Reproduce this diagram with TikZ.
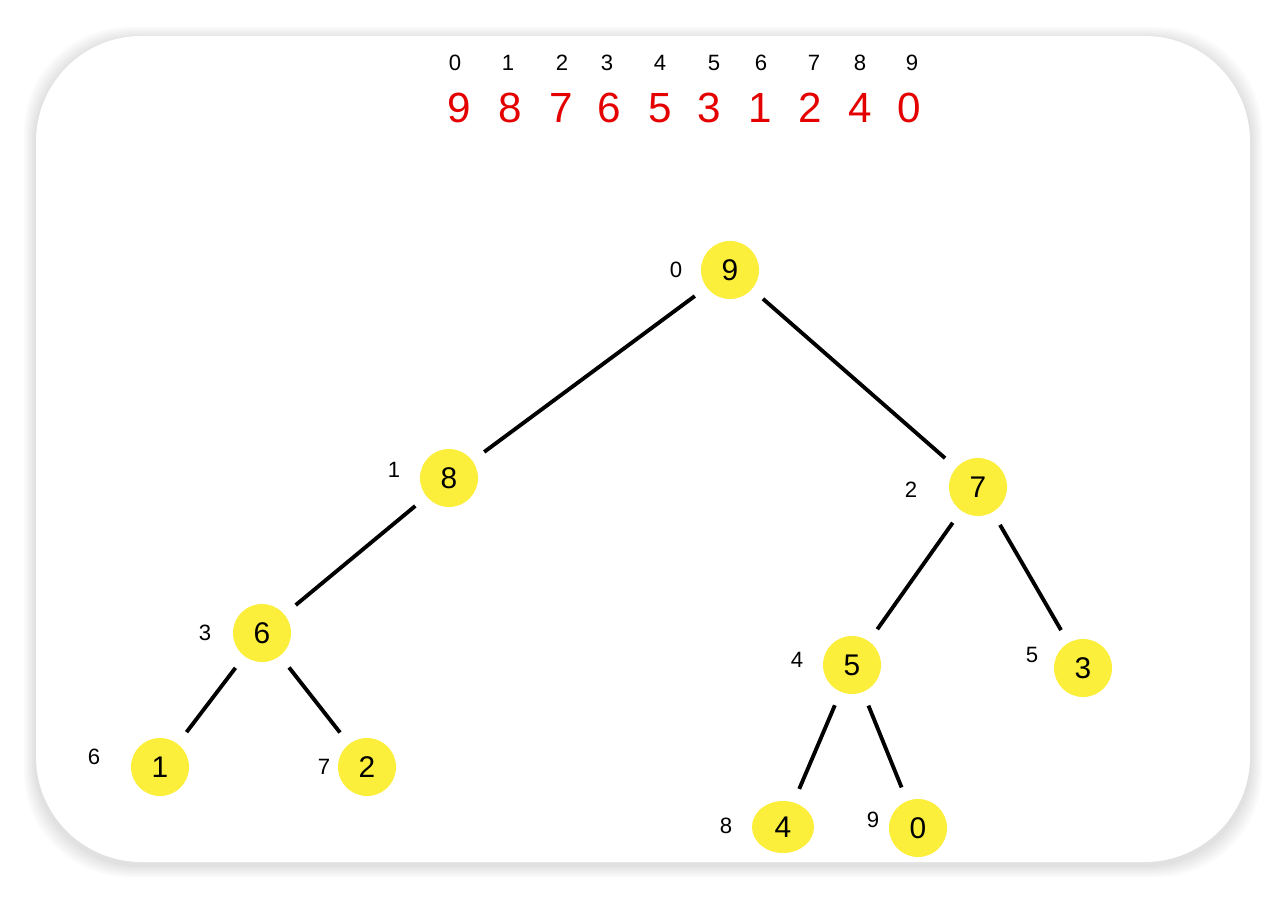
\documentclass[tikz,border=0pt]{standalone}
\usepackage{fontspec}
\usetikzlibrary{shapes.geometric}
\setmainfont{Liberation Sans}
\begin{document}
\begin{tikzpicture}[x=0.01cm,y=-0.01cm,
  nd/.style={circle,fill=ndy,inner sep=0pt,minimum size=0.58cm,font=\fontsize{8.5}{9}\selectfont},
  ix/.style={font=\fontsize{6.3}{7}\selectfont},
  rd/.style={font=\fontsize{12}{13}\selectfont,text=red!90!black},
  ed/.style={line width=1.1pt,shorten >=4pt,shorten <=4pt}]
\definecolor{ndy}{HTML}{FCEF3C}
\useasboundingbox (0,0) rectangle (1286,898);
\foreach \i in {12,10,...,2}{
  \fill[black,opacity=0.018,rounded corners=30] (36-\i,36-\i+3) rectangle (1250+\i,862+\i+3);}
\fill[white,rounded corners=30] (36,36) rectangle (1250,862);
\foreach \x/\t in {455/0,508/1,562/2,607/3,660/4,714/5,761/6,814/7,860/8,912/9}
  \node[ix] at (\x,63) {\t};
\foreach \x/\t in {459/9,510/8,561/7,609/6,660/5,709/3,760/1,810/2,860/4,909/0}
  \node[rd] at (\x,108) {\t};
\node[nd] (n0) at (730,270) {9};
\node[nd] (n1) at (449,478) {8};
\node[nd] (n2) at (978,487) {7};
\node[nd] (n3) at (262,633) {6};
\node[nd] (n4) at (852,665) {5};
\node[nd] (n5) at (1083,668) {3};
\node[nd] (n6) at (160,767) {1};
\node[nd] (n7) at (367,767) {2};
\node[nd,ellipse,minimum size=0pt,minimum width=0.62cm,minimum height=0.52cm] (n8) at (783,827) {4};
\node[nd] (n9) at (918,828) {0};
\foreach \x/\y/\t in {676/270/0,394/470/1,911/490/2,205/633/3,797/660/4,1032/655/5,94/757/6,324/767/7,726/826/8,873/820/9}
  \node[ix] at (\x,\y) {\t};
\draw[ed] (n0) -- (n1);
\draw[ed] (n0) -- (n2);
\draw[ed] (n1) -- (n3);
\draw[ed] (n2) -- (n4);
\draw[ed] (n2) -- (n5);
\draw[ed] (n3) -- (n6);
\draw[ed] (n3) -- (n7);
\draw[ed] (n4) -- (n8);
\draw[ed] (n4) -- (n9);
\end{tikzpicture}
\end{document}
